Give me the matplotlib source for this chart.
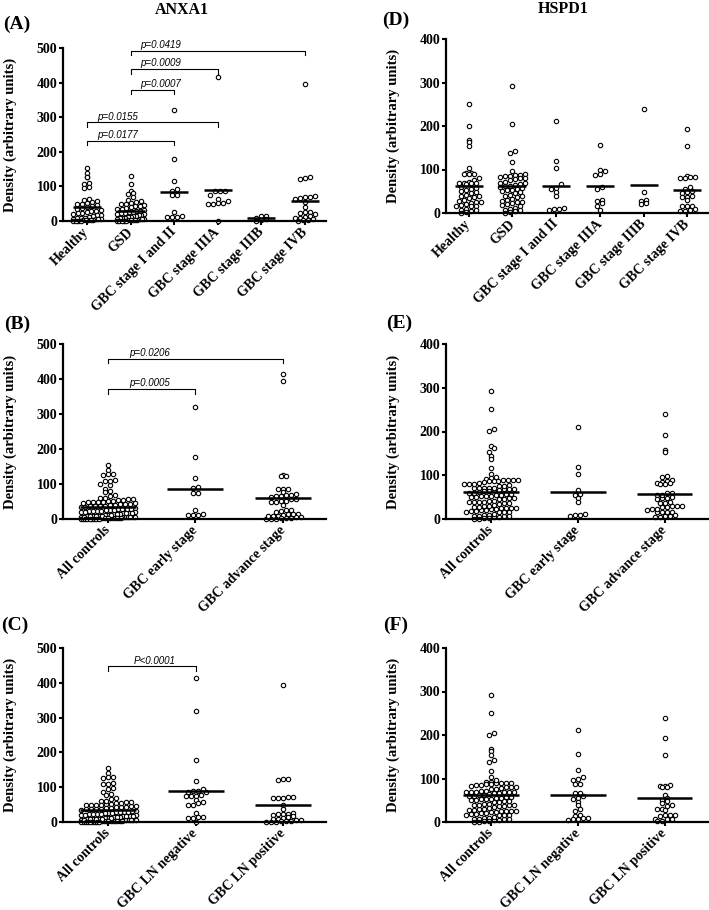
import numpy as np
import matplotlib
matplotlib.use('Agg')
import matplotlib.pyplot as plt

# ---- ANXA1 values per group (arbitrary units) ----
anxa1_healthy = [154, 140, 128, 126, 111, 108, 99, 96, 65, 60, 58, 55, 52, 50, 48, 45, 43,
                 40, 38, 36, 33, 30, 28, 26, 24, 22, 20, 18, 16, 14, 12, 10, 9, 8, 7, 6, 5,
                 5, 4, 3, 3, 2, 2, 1, 1, 0, 0]
anxa1_gsd = [130, 108, 87, 80, 78, 70, 60, 58, 55, 52, 50, 48, 46, 44, 42, 40, 38, 36, 34,
             32, 30, 28, 26, 25, 24, 22, 20, 19, 18, 16, 15, 14, 12, 11, 10, 9, 8, 7, 6, 5,
             5, 4, 3, 3, 2, 2, 1, 1, 0, 0, 0]
anxa1_stage_1_2 = [320, 178, 116, 92, 88, 75, 75, 25, 12, 12, 12, 15]
anxa1_stage_3a = [415, 86, 86, 86, 76, 65, 58, 52, 50, 50, 52, 0]
anxa1_stage_3b = [15, 14, 10, 5, 3, 1]
anxa1_stage_4b = [395, 126, 124, 122, 72, 70, 68, 66, 64, 56, 41, 27, 25, 22, 20, 14, 12,
                  10, 8, 5, 3, 2, 1]
anxa1_ln_neg = [413, 319, 179, 117, 95, 90, 88, 86, 85, 77, 75, 74, 76, 64, 57, 55, 50, 49,
                26, 14, 12, 12, 13, 0]
anxa1_ln_pos = [393, 125, 123, 121, 72, 71, 70, 69, 68, 48, 38, 26, 24, 23, 22, 20, 18, 14,
                12, 10, 8, 6, 5, 4, 3, 2, 1, 1, 0]

# ---- HSPD1 values per group ----
hspd1_healthy = [251, 201, 167, 163, 154, 103, 93, 91, 90, 90, 89, 80, 75, 72, 70, 70, 69,
                 68, 66, 60, 58, 55, 52, 50, 48, 45, 42, 40, 38, 36, 35, 30, 28, 26, 25, 22,
                 20, 18, 17, 16, 15, 10, 8, 6, 4, 2, 1]
hspd1_gsd = [293, 205, 143, 138, 117, 96, 90, 88, 87, 86, 85, 82, 80, 80, 78, 76, 72, 70, 68,
             66, 64, 63, 62, 60, 58, 55, 53, 52, 50, 48, 45, 42, 40, 38, 36, 33, 30, 28, 26,
             25, 22, 20, 18, 15, 12, 10, 8, 6, 4, 2, 1]
hspd1_stage_1_2 = [211, 120, 104, 66, 58, 56, 48, 40, 12, 10, 9, 8]
hspd1_stage_3a = [157, 98, 97, 89, 88, 60, 56, 30, 28, 23, 15, 8]
hspd1_stage_3b = [240, 48, 29, 27, 24, 20]
hspd1_stage_4b = [192, 154, 84, 83, 82, 81, 80, 60, 56, 50, 48, 46, 38, 37, 36, 29, 17, 16,
                  15, 9, 8, 5, 4]
hspd1_ln_neg = [211, 157, 120, 103, 98, 96, 88, 87, 67, 66, 60, 56, 54, 47, 40, 30, 26, 15,
                13, 10, 9, 8, 6, 5]
hspd1_ln_pos = [239, 192, 153, 84, 83, 82, 81, 80, 61, 55, 50, 48, 44, 38, 37, 30, 29, 28,
                16, 15, 15, 14, 8, 7, 6, 3, 2]

stage_labels = ["Healthy", "GSD", "GBC stage I and II", "GBC stage IIIA",
                "GBC stage IIIB", "GBC stage IVB"]
early_labels = ["All controls", "GBC early stage", "GBC advance stage"]
ln_labels = ["All controls", "GBC LN negative", "GBC LN positive"]

# brackets: (from group, to group, height, text)
pvals_a = [(1, 5, 492, "p=0.0419"), (1, 3, 439, "p=0.0009"), (1, 2, 380, "p=0.0007"),
           (0, 3, 285, "p=0.0155"), (0, 2, 232, "p=0.0177")]
pvals_b = [(0, 2, 458, "p=0.0206"), (0, 1, 371, "p=0.0005")]
pvals_c = [(0, 1, 447, "P<0.0001")]

SERIF = "Liberation Serif"
SANS = "Liberation Sans"

W, H = 709, 910
fig = plt.figure(figsize=(W / 100, H / 100), dpi=100)


def rect(left, right, top, bottom):
    return [left / W, 1 - bottom / H, (right - left) / W, (bottom - top) / H]


def swarm(ax, xc, vals, diam, rowh, maxw):
    # row-binned scatter layout (like a column scatter plot), done in pixels
    tr = ax.transData
    pts = tr.transform(np.column_stack([np.full(len(vals), xc), vals]))
    ys = pts[:, 1]
    x0 = pts[0, 0]
    rows = np.round((ys - ys.min()) / rowh).astype(int)
    xs = np.zeros(len(vals))
    for r in np.unique(rows):
        idx = np.where(rows == r)[0]
        idx = idx[np.argsort(ys[idx], kind="stable")]
        n = len(idx)
        step = diam if n < 2 else min(diam, maxw / (n - 1))
        order = np.argsort(np.abs(np.arange(n) - (n - 1) / 2), kind="stable")
        pos = (np.arange(n) - (n - 1) / 2) * step
        xs[idx[order]] = x0 + pos[np.argsort(np.abs(pos), kind="stable")]
    return tr.inverted().transform(np.column_stack([xs, ys]))[:, 0]


def panel(r, labels, groups, ymax, xlim, brackets=(), text_dx=0.25, drop=13):
    ax = fig.add_axes(r)
    ax.set_xlim(*xlim)
    ax.set_ylim(0, ymax)
    for s in ["top", "right"]:
        ax.spines[s].set_visible(False)
    for s in ["left", "bottom"]:
        ax.spines[s].set_linewidth(1.6)
    # pixel width of one category
    cat_px = ax.transData.transform((1, 0))[0] - ax.transData.transform((0, 0))[0]
    for i, vals in enumerate(groups):
        xs = swarm(ax, i, vals, 5.0, 4.6, 0.62 * cat_px)
        ax.scatter(xs, vals, s=10, facecolor="white", edgecolor="black",
                   linewidth=0.8, clip_on=False, zorder=2)
        ax.hlines(np.mean(vals), i - 0.32, i + 0.32, color="black", lw=1.8, zorder=3)
    ax.set_xticks(range(len(labels)))
    ax.set_xticklabels(labels, rotation=45, ha="right", va="center",
                       rotation_mode="anchor", fontfamily=SERIF, fontweight="bold",
                       fontsize=10)
    ax.set_yticks(np.arange(0, ymax + 1, 100))
    ax.set_yticklabels([str(v) for v in range(0, ymax + 1, 100)],
                       fontfamily=SERIF, fontweight="bold", fontsize=10)
    ax.tick_params(axis="both", direction="out", length=3, width=1.5, color="black")
    ax.tick_params(axis="y", pad=1)
    ax.tick_params(axis="x", pad=3.5)
    ax.set_ylabel("Density (arbitrary units)", fontfamily=SERIF, fontweight="bold",
                  fontsize=10.5, va="center")
    ax.yaxis.set_label_coords(-0.2, 0.5)
    for a, b, y, txt in brackets:
        ax.plot([a, a, b, b], [y - drop, y, y, y - drop], color="black", lw=0.8,
                clip_on=False)
        ax.text(a + text_dx, y + 2, txt, ha="left", va="bottom", fontfamily=SANS,
                style="italic", fontsize=7)
    return ax


controls_anxa1 = anxa1_healthy + anxa1_gsd
controls_hspd1 = hspd1_healthy + hspd1_gsd

panel(rect(63, 326, 48, 221), stage_labels,
      [anxa1_healthy, anxa1_gsd, anxa1_stage_1_2, anxa1_stage_3a, anxa1_stage_3b,
       anxa1_stage_4b], 500, (-0.55, 5.48), pvals_a, text_dx=0.23)
panel(rect(446, 708, 39, 213), stage_labels,
      [hspd1_healthy, hspd1_gsd, hspd1_stage_1_2, hspd1_stage_3a, hspd1_stage_3b,
       hspd1_stage_4b], 400, (-0.52, 5.47))
panel(rect(63, 326, 344, 519), early_labels,
      [controls_anxa1, anxa1_stage_1_2, anxa1_stage_3a + anxa1_stage_3b + anxa1_stage_4b],
      500, (-0.51, 2.49), pvals_b, text_dx=0.25)
panel(rect(446, 708, 344, 519), early_labels,
      [controls_hspd1, hspd1_stage_1_2, hspd1_stage_3a + hspd1_stage_3b + hspd1_stage_4b],
      400, (-0.52, 2.5))
panel(rect(63, 326, 648, 822), ln_labels,
      [controls_anxa1, anxa1_ln_neg, anxa1_ln_pos], 500, (-0.52, 2.49), pvals_c,
      text_dx=0.29)
panel(rect(446, 708, 648, 822), ln_labels,
      [controls_hspd1, hspd1_ln_neg, hspd1_ln_pos], 400, (-0.52, 2.5))

fig.text(182 / W, 1 - 10 / H, "ANXA1", ha="center", va="center", fontfamily=SERIF,
         fontweight="bold", fontsize=11.5)
fig.text(563 / W, 1 - 9 / H, "HSPD1", ha="center", va="center", fontfamily=SERIF,
         fontweight="bold", fontsize=11.5)
for letter, x, y in [("(A)", 17, 24), ("(D)", 396, 20), ("(B)", 17, 324),
                     ("(E)", 399, 323), ("(C)", 15, 625), ("(F)", 396, 625)]:
    fig.text(x / W, 1 - y / H, letter, ha="center", va="center", fontfamily=SERIF,
             fontweight="bold", fontsize=14)

fig.savefig("out.png", dpi=100)
